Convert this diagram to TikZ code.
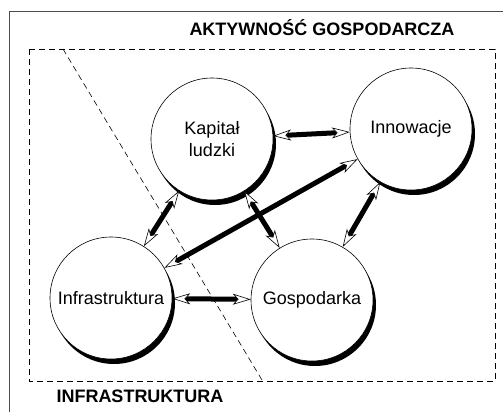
\documentclass[tikz,border=0pt]{standalone}
\usepackage{fontspec}
\setmainfont{Liberation Sans}
\usetikzlibrary{arrows.meta,shadows}
\begin{document}
\begin{tikzpicture}[x=1pt,y=-1pt,
  bubble/.style={circle,draw,line width=0.6pt,fill=white,minimum size=122pt,inner sep=0pt,
    drop shadow={shadow xshift=3pt,shadow yshift=-5pt,fill=black,opacity=1},
    font=\fontsize{18}{22}\selectfont,align=center},
  shaft/.style={line width=5pt,shorten <=13pt,shorten >=13pt},
  heads/.style={line width=0.6pt,{Stealth[open,fill=white,length=18pt,width=11pt,inset=5pt]}-{Stealth[open,fill=white,length=18pt,width=11pt,inset=5pt]}},
  region/.style={dashed,dash pattern=on 6pt off 4pt,line width=0.6pt},
  title/.style={font=\bfseries\fontsize{18}{22}\selectfont,anchor=base}]
\useasboundingbox (0,0) rectangle (503,412);
\begin{scope}
\clip (0,0) rectangle (503,412);
\draw[line width=0.8pt,black!70] (9,420) -- (9,11) -- (510,11);
\end{scope}
\draw[region] (29,49) rectangle (495,381);
\draw[region] (63,49) -- (262,380);
\node[title] (t1) at (322,36) {AKTYWNOŚĆ GOSPODARCZA};
\node[title] (t2) at (140,402) {INFRASTRUKTURA};
\node[bubble] (kap) at (212,139) {Kapitał\\ludzki};
\node[bubble] (inn) at (411,129) {Innowacje};
\node[bubble] (inf) at (111,298) {Infrastruktura};
\node[bubble] (gos) at (312,300) {Gospodarka};
\foreach \a/\b in {kap/inn,kap/inf,kap/gos,inn/gos,inn/inf,inf/gos}{
  \draw[shaft] (\a) -- (\b);
  \draw[heads] (\a) -- (\b);
}
\end{tikzpicture}
\end{document}
